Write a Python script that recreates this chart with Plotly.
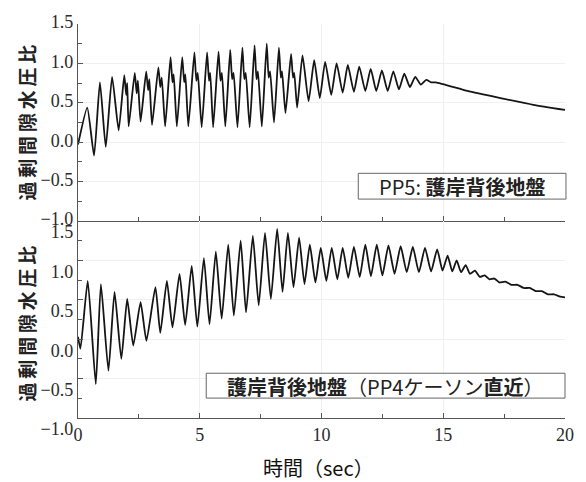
import plotly.graph_objects as go

# ---- data ----
# Upper panel: PP5 (excess pore water pressure ratio vs time)
pp5_time = [0.00, 0.38, 0.66, 0.90, 1.14, 1.40, 1.67,
            1.90, 1.98, 2.02, 2.08,
            2.33, 2.41, 2.46, 2.57,
            2.80, 2.88, 2.93, 3.04,
            3.30, 3.38, 3.44, 3.58,
            3.80, 3.88, 3.93, 4.06,
            4.28, 4.36, 4.41, 4.53,
            4.78, 4.86, 4.92, 5.08,
            5.30, 5.38, 5.43, 5.55,
            5.77, 5.85, 5.91, 6.05,
            6.25, 6.33, 6.39, 6.55,
            6.75, 6.83, 6.89, 7.05,
            7.25, 7.33, 7.39, 7.55,
            7.75, 7.83, 7.89, 8.05,
            8.25, 8.33, 8.38, 8.52,
            8.75, 8.83, 8.88, 9.00,
            9.22, 9.47, 9.70, 9.93, 10.15, 10.40, 10.62, 10.87, 11.08, 11.33,
            11.55, 11.80, 12.02, 12.25, 12.48, 12.72, 12.95, 13.18, 13.40, 13.63,
            13.85, 14.08, 14.30, 14.50,
            14.70, 16.00, 17.35, 18.70, 20.00]
pp5_ratio = [-0.03, 0.44, -0.17, 0.76, -0.06, 0.83, 0.15,
             0.85, 0.60, 0.75, 0.20,
             0.88, 0.62, 0.78, 0.26,
             0.90, 0.66, 0.80, 0.22,
             0.95, 0.70, 0.82, 0.20,
             1.08, 0.76, 0.86, 0.20,
             1.08, 0.76, 0.86, 0.20,
             1.14, 0.78, 0.88, 0.19,
             1.14, 0.78, 0.88, 0.19,
             1.15, 0.78, 0.88, 0.20,
             1.17, 0.80, 0.88, 0.19,
             1.20, 0.80, 0.88, 0.19,
             1.23, 0.80, 0.90, 0.20,
             1.25, 0.82, 0.90, 0.25,
             1.20, 0.82, 0.90, 0.37,
             1.12, 0.82, 0.88, 0.44,
             1.10, 0.52, 1.04, 0.56, 1.02, 0.60, 1.00, 0.63, 0.98, 0.64,
             0.96, 0.65, 0.93, 0.65, 0.91, 0.65, 0.90, 0.67, 0.87, 0.70,
             0.83, 0.73, 0.79, 0.76,
             0.76, 0.65, 0.56, 0.475, 0.41]

# Lower panel: PP4 (near caisson)
pp4_time = [0.00, 0.10, 0.40, 0.73, 0.94, 1.25, 1.50, 1.78, 2.02, 2.27,
            2.57, 2.81, 3.18, 3.38, 3.65, 3.88, 4.17, 4.40, 4.67, 4.90,
            5.17, 5.40, 5.66, 5.90, 6.17, 6.40, 6.68, 6.90, 7.18, 7.42,
            7.68, 7.92, 8.18, 8.40, 8.62, 8.85, 9.08, 9.30, 9.52, 9.75,
            9.97, 10.20, 10.42, 10.65, 10.87, 11.10, 11.33, 11.57, 11.80, 12.03,
            12.27, 12.50, 12.75, 13.00, 13.25, 13.50, 13.75, 14.00, 14.25, 14.50,
            14.75, 14.97, 15.18, 15.37, 15.55, 15.73, 15.92, 16.10, 16.30, 16.50,
            16.70, 16.90, 17.10, 17.30, 17.55, 17.80, 18.05, 18.30, 18.55, 18.80,
            19.05, 19.30, 19.55, 19.80, 20.00]
pp4_ratio = [0.03, -0.12, 0.74, -0.57, 0.70, -0.40, 0.60, -0.25, 0.51, -0.08,
             0.47, -0.02, 0.66, 0.08, 0.74, 0.15, 0.83, 0.18, 0.93, 0.16,
             1.03, 0.19, 1.11, 0.26, 1.20, 0.30, 1.25, 0.34, 1.31, 0.43,
             1.35, 0.51, 1.40, 0.60, 1.35, 0.66, 1.29, 0.70, 1.20, 0.72,
             1.16, 0.74, 1.16, 0.76, 1.16, 0.78, 1.17, 0.79, 1.20, 0.80,
             1.20, 0.81, 1.19, 0.83, 1.18, 0.85, 1.17, 0.85, 1.16, 0.86,
             1.14, 0.87, 1.06, 0.86, 1.00, 0.85, 0.94, 0.83, 0.87, 0.79,
             0.81, 0.76, 0.77, 0.72, 0.73, 0.69, 0.69, 0.65, 0.65, 0.61,
             0.61, 0.57, 0.57, 0.54, 0.53]

x_ticks = [0, 5, 10, 15, 20]
y_ticks = [-1.0, -0.5, 0.0, 0.5, 1.0, 1.5]

y_title = "過剰間隙水圧比"
x_title = "時間（sec）"
label_top = "PP5: <b>護岸背後地盤</b>"
label_bottom = "<b>護岸背後地盤</b>（PP4ケーソン<b>直近</b>）"

# ---- figure ----
fig = go.Figure()
line_style = dict(color="#151515", width=1.8, shape="spline", smoothing=0.5)
fig.add_trace(go.Scatter(x=pp5_time, y=pp5_ratio, xaxis="x", yaxis="y",
                         mode="lines", line=line_style, showlegend=False,
                         hoverinfo="skip"))
fig.add_trace(go.Scatter(x=pp4_time, y=pp4_ratio, xaxis="x2", yaxis="y2",
                         mode="lines", line=line_style, showlegend=False,
                         hoverinfo="skip"))

tick_font = dict(family="'Times New Roman', 'Liberation Serif', 'DejaVu Serif', serif",
                 size=18, color="#2a2a2a")
axcol = "#555"

def xaxis_style(show_labels):
    return dict(range=[0, 20], tickvals=x_ticks, showline=True, linecolor=axcol,
                linewidth=1.4, ticks="inside", ticklen=5, tickcolor=axcol,
                tickwidth=1, showgrid=True, gridcolor="#f0f0f0", zeroline=False,
                showticklabels=show_labels,
                minor=dict(dtick=2.5, tick0=0, ticks="inside", ticklen=4,
                           tickcolor=axcol, showgrid=False),
                tickfont=tick_font)

ycommon = dict(range=[-1.0, 1.5], tickvals=y_ticks, tickformat=".1f",
               showline=True, linecolor=axcol, linewidth=1.4, ticks="inside",
               ticklen=5, tickcolor=axcol, tickwidth=1, showgrid=True,
               gridcolor="#f0f0f0", zeroline=False,
               minor=dict(dtick=0.25, tick0=0, ticks="inside", ticklen=4,
                          tickcolor=axcol, showgrid=False),
               tickfont=tick_font)

fig.update_layout(
    width=586, height=482,
    margin=dict(l=78, r=18, t=22, b=64),
    paper_bgcolor="white", plot_bgcolor="white",
    font=dict(family="'Times New Roman', 'Liberation Serif', serif"),
    xaxis=dict(domain=[0, 1], anchor="y", **xaxis_style(False)),
    xaxis2=dict(domain=[0, 1], anchor="y2", ticklabelstandoff=0, **xaxis_style(True)),
    yaxis=dict(domain=[0.5, 1], anchor="x", ticklabelshift=-2, **ycommon),
    yaxis2=dict(domain=[0, 0.5], anchor="x2", ticklabelshift=11, **ycommon),
)

spaced_title = "\u2009".join(list(y_title))
title_font = dict(family="Noto Sans CJK JP", size=19, color="#222")
for yc in (0.75, 0.24):
    fig.add_annotation(text="<b>" + spaced_title + "</b>", xref="paper", yref="paper",
                       x=0, y=yc, xshift=-52, xanchor="center", yanchor="middle",
                       textangle=-90, showarrow=False, font=title_font)

fig.add_annotation(text=x_title, xref="paper", yref="paper", x=0.494, y=-0.126,
                   xanchor="center", yanchor="middle", showarrow=False,
                   font=dict(family="Noto Sans CJK JP", size=20, color="#111"))

# label boxes
box_font = dict(family="Noto Sans CJK JP", size=20, color="#222")
fig.add_shape(type="rect", xref="paper", yref="paper", x0=0.5755, x1=1.002,
              y0=0.5556, y1=0.621, line=dict(color="#666", width=1), fillcolor="white")
fig.add_annotation(text=label_top, xref="paper", yref="paper", x=0.788, y=0.588,
                   xanchor="center", yanchor="middle", showarrow=False, font=box_font)
fig.add_shape(type="rect", xref="paper", yref="paper", x0=0.2633, x1=1.0,
              y0=0.0505, y1=0.1136, line=dict(color="#666", width=1), fillcolor="white")
fig.add_annotation(text=label_bottom, xref="paper", yref="paper", x=0.6306, y=0.0808,
                   xanchor="center", yanchor="middle", showarrow=False, font=box_font)

fig.write_html("out.html")
